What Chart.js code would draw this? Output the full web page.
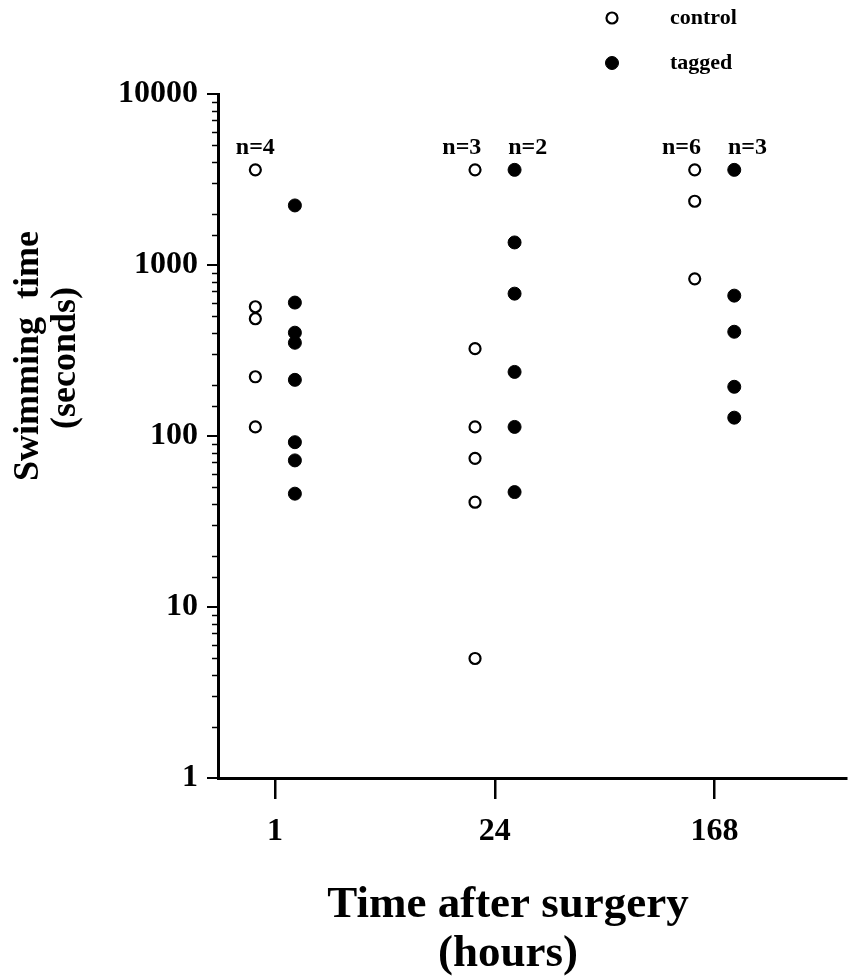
<!DOCTYPE html>
<html>
<head>
<meta charset="utf-8">
<script src="https://cdn.jsdelivr.net/npm/chart.js@4.4.0/dist/chart.umd.min.js"></script>
<style>
  html, body { margin: 0; padding: 0; background: #fff; }
  #wrap { width: 854px; height: 979px; }
</style>
</head>
<body>
<div id="wrap"><canvas id="swimChart" width="854" height="979"></canvas></div>
<script>
// hours after surgery (one group per tick)
const groups = ['1', '24', '168'];

// swimming time in seconds
const controlTimes = [
  [3600, 570, 485, 222, 113],
  [3600, 324, 113, 74, 41, 5],
  [3600, 2360, 830]
];
const taggedTimes = [
  [2230, 603, 402, 351, 213, 92, 72, 46],
  [3600, 1355, 680, 237, 113, 47],
  [3600, 662, 407, 194, 128]
];

// sample sizes printed above the columns
const controlN = ['n=4', 'n=3', 'n=6'];
const taggedN = ['', 'n=2', 'n=3'];

const yTickLabels = ['1', '10', '100', '1000', '10000'];

const serif = "'Liberation Serif', 'Times New Roman', serif";
const offset = 0.09; // control left of the tick, tagged right of it

function toPoints(series, shift) {
  const pts = [];
  series.forEach((vals, i) => {
    vals.forEach(v => pts.push({ x: i + 1 + shift, y: v }));
  });
  return pts;
}

function isDecade(v) {
  const e = Math.round(Math.log10(v));
  return Math.abs(v - Math.pow(10, e)) < 1e-6 ? e : -1;
}

// short minor ticks on the log axis
const minorTicks = {
  id: 'minorTicks',
  afterDraw(chart) {
    const ctx = chart.ctx;
    const y = chart.scales.y;
    const left = chart.chartArea.left;
    ctx.save();
    ctx.strokeStyle = '#000';
    ctx.lineWidth = 1.5;
    y.ticks.forEach(t => {
      if (isDecade(t.value) >= 0) return;
      const py = Math.round(y.getPixelForValue(t.value)) + 0.5;
      ctx.beginPath();
      ctx.moveTo(left - 6, py);
      ctx.lineTo(left, py);
      ctx.stroke();
    });
    ctx.restore();
  }
};

// n= labels, axis titles and the legend
const annotations = {
  id: 'annotations',
  afterDraw(chart) {
    const ctx = chart.ctx;
    const xs = chart.scales.x;
    const ys = chart.scales.y;
    ctx.save();
    ctx.fillStyle = '#000';
    ctx.textAlign = 'center';
    ctx.textBaseline = 'middle';

    ctx.font = 'bold 24px ' + serif;
    const topY = ys.getPixelForValue(3600) - 22;
    groups.forEach((g, i) => {
      const both = controlN[i] && taggedN[i];
      const spread = both ? 0.15 : offset;
      if (controlN[i]) ctx.fillText(controlN[i], xs.getPixelForValue(i + 1 - spread), topY);
      if (taggedN[i]) ctx.fillText(taggedN[i], xs.getPixelForValue(i + 1 + spread), topY);
    });

    // x title
    ctx.font = 'bold 45px ' + serif;
    ctx.fillText('Time after surgery', 508, 905);
    ctx.fillText('(hours)', 508, 954);

    // y title
    ctx.font = 'bold 36px ' + serif;
    ctx.save();
    ctx.translate(29, 356);
    ctx.rotate(-Math.PI / 2);
    ctx.fillText('Swimming  time', 0, 0);
    ctx.restore();
    ctx.save();
    ctx.translate(66, 358);
    ctx.rotate(-Math.PI / 2);
    ctx.fillText('(seconds)', 0, 0);
    ctx.restore();

    // legend
    ctx.textAlign = 'left';
    ctx.font = 'bold 22px ' + serif;
    chart.data.datasets.forEach((ds, i) => {
      const ly = 18 + i * 45;
      ctx.beginPath();
      ctx.arc(612, ly, ds.pointRadius, 0, Math.PI * 2);
      ctx.fillStyle = ds.pointBackgroundColor;
      ctx.fill();
      ctx.lineWidth = ds.pointBorderWidth;
      ctx.strokeStyle = '#000';
      ctx.stroke();
      ctx.fillStyle = '#000';
      ctx.fillText(ds.label, 670, ly);
    });
    ctx.restore();
  }
};

const ctx = document.getElementById('swimChart').getContext('2d');
const myChart = new Chart(ctx, {
  type: 'scatter',
  data: {
    datasets: [
      {
        label: 'control',
        data: toPoints(controlTimes, -offset),
        pointRadius: 5.5,
        pointBorderWidth: 2.2,
        pointBackgroundColor: '#fff',
        pointBorderColor: '#000',
        pointHoverRadius: 5.5
      },
      {
        label: 'tagged',
        data: toPoints(taggedTimes, offset),
        pointRadius: 6.5,
        pointBorderWidth: 1,
        pointBackgroundColor: '#000',
        pointBorderColor: '#000',
        pointHoverRadius: 6.5
      }
    ]
  },
  options: {
    responsive: false,
    devicePixelRatio: 1,
    animation: false,
    layout: { padding: { top: 94, right: 2, left: 0, bottom: 0 } },
    plugins: {
      legend: { display: false },
      tooltip: { enabled: false }
    },
    scales: {
      x: {
        type: 'linear',
        min: 0.74,
        max: 3.6,
        afterBuildTicks: (scale) => {
          scale.ticks = groups.map((g, i) => ({ value: i + 1 }));
        },
        afterFit: (scale) => { scale.height = 201; },
        ticks: {
          callback: (v) => groups[Math.round(v) - 1],
          font: { family: serif, size: 32, weight: 'bold' },
          color: '#000',
          padding: 14,
          maxRotation: 0
        },
        grid: {
          drawOnChartArea: false,
          tickLength: 21,
          lineWidth: 2.5,
          color: '#000'
        },
        border: { display: true, color: '#000', width: 3 }
      },
      y: {
        type: 'logarithmic',
        min: 1,
        max: 10000,
        afterFit: (scale) => { scale.width = 218; },
        ticks: {
          autoSkip: false,
          callback: (v) => {
            const e = isDecade(v);
            return e >= 0 ? yTickLabels[e] : '';
          },
          font: { family: serif, size: 32, weight: 'bold' },
          color: '#000',
          padding: 9
        },
        grid: {
          drawOnChartArea: false,
          tickLength: 11,
          lineWidth: 2,
          color: (c) => (c.tick && isDecade(c.tick.value) >= 0) ? '#000' : 'rgba(0,0,0,0)'
        },
        border: { display: true, color: '#000', width: 3 }
      }
    }
  },
  plugins: [minorTicks, annotations]
});
</script>
</body>
</html>
